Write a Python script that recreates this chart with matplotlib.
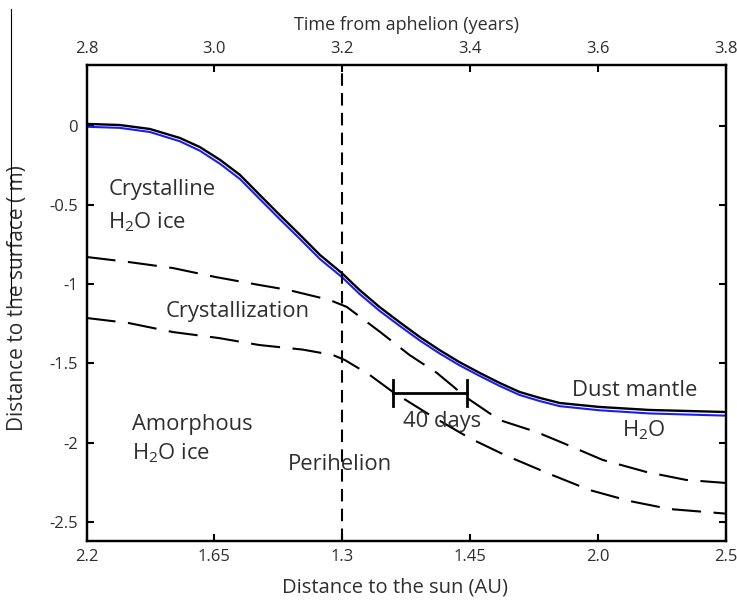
import numpy as np
import matplotlib.pyplot as plt
from matplotlib.lines import Line2D

plt.rcParams['font.family'] = ['Open Sans', 'DejaVu Sans']
plt.rcParams['mathtext.default'] = 'regular'

# time from aphelion (years) and depth (m)
t_surf = [2.8, 2.852, 2.899, 2.946, 2.977, 3.009, 3.040, 3.071, 3.102, 3.134, 3.165, 3.199, 3.227,
          3.258, 3.289, 3.321, 3.352, 3.383, 3.415, 3.446, 3.477, 3.509, 3.540, 3.602, 3.680, 3.8]
d_surf = [0.016, 0.009, -0.016, -0.073, -0.130, -0.212, -0.307, -0.434, -0.560, -0.687, -0.813, -0.927, -1.035,
          -1.142, -1.237, -1.332, -1.415, -1.491, -1.560, -1.623, -1.680, -1.718, -1.750, -1.775, -1.794, -1.807]
d_h2o = [-0.002, -0.009, -0.035, -0.094, -0.153, -0.237, -0.333, -0.460, -0.586, -0.713, -0.839, -0.952, -1.060,
         -1.166, -1.260, -1.354, -1.436, -1.511, -1.579, -1.642, -1.699, -1.738, -1.770, -1.796, -1.816, -1.830]

t_cryst_top = [2.8, 2.866, 2.935, 3.002, 3.070, 3.116, 3.180, 3.207, 3.259, 3.305, 3.348,
               3.395, 3.446, 3.504, 3.545, 3.607, 3.676, 3.738, 3.8]
d_cryst_top = [-0.826, -0.858, -0.896, -0.953, -1.003, -1.035, -1.098, -1.142, -1.300, -1.446, -1.560,
               -1.718, -1.858, -1.934, -2.003, -2.110, -2.187, -2.237, -2.256]

t_cryst_bot = [2.8, 2.866, 2.935, 3.007, 3.070, 3.138, 3.185, 3.204, 3.243, 3.279, 3.337,
               3.399, 3.454, 3.524, 3.587, 3.649, 3.712, 3.8]
d_cryst_bot = [-1.212, -1.244, -1.301, -1.339, -1.383, -1.412, -1.446, -1.478, -1.573, -1.680, -1.826,
               -1.972, -2.079, -2.199, -2.301, -2.370, -2.421, -2.450]

perihelion = 3.2
lag_start, lag_end, lag_depth = 3.279, 3.395, -1.687

time_ticks = [2.8, 3.0, 3.2, 3.4, 3.6, 3.8]
time_labels = ['2.8', '3.0', '3.2', '3.4', '3.6', '3.8']
sun_labels = ['2.2', '1.65', '1.3', '1.45', '2.0', '2.5']
depth_ticks = [0, -0.5, -1, -1.5, -2, -2.5]
depth_labels = ['0', '-0.5', '-1', '-1.5', '-2', '-2.5']

fig = plt.figure(figsize=(7.37, 6.06), dpi=100)
ax = fig.add_axes([0.1174, 0.1073, 0.8677, 0.7855])

ax.plot(t_surf, d_h2o, color='#1a1aff', lw=1.5)
ax.plot(t_surf, d_surf, color='black', lw=1.7)
ax.plot(t_cryst_top, d_cryst_top, color='black', lw=1.5, dashes=(14, 6))
ax.plot(t_cryst_bot, d_cryst_bot, color='black', lw=1.5, dashes=(14, 6))
ax.axvline(perihelion, color='black', lw=1.5, dashes=(6, 3.5))

# 40 day lag marker
ax.plot([lag_start, lag_end], [lag_depth, lag_depth], color='black', lw=2)
ax.plot([lag_start, lag_start], [lag_depth - 0.085, lag_depth + 0.085], color='black', lw=2)
ax.plot([lag_end, lag_end], [lag_depth - 0.085, lag_depth + 0.085], color='black', lw=2)

fs = 15.8
col = '#2e2e2e'
ax.text(2.834, -0.40, 'Crystalline', fontsize=fs, color=col, va='center')
ax.text(2.834, -0.606, 'H$_2$O ice', fontsize=fs, color=col, va='center')
ax.text(2.924, -1.174, 'Crystallization', fontsize=fs, color=col, va='center')
ax.text(2.871, -1.883, 'Amorphous', fontsize=fs, color=col, va='center')
ax.text(2.871, -2.066, 'H$_2$O ice', fontsize=fs, color=col, va='center')
ax.text(3.115, -2.142, 'Perihelion', fontsize=fs, color=col, va='center')
ax.text(3.295, -1.870, '40 days', fontsize=fs, color=col, va='center')
ax.text(3.559, -1.668, 'Dust mantle', fontsize=fs, color=col, va='center')
ax.text(3.637, -1.921, 'H$_2$O', fontsize=fs, color=col, va='center')

ax.set_xlim(2.8, 3.8)
ax.set_ylim(-2.623, 0.389)
ax.set_xticks(time_ticks)
ax.set_xticklabels(sun_labels)
ax.set_yticks(depth_ticks)
ax.set_yticklabels(depth_labels)
ax.tick_params(direction='in', length=5, width=1.5, labelsize=12, colors='black',
               labelcolor=col, right=True, pad=6)
ax.set_xlabel('Distance to the sun (AU)', fontsize=14.5, color=col)
ax.set_ylabel('Distance to the surface ( m)', fontsize=15, color=col)
ax.xaxis.set_label_coords(0.482, -0.076)
ax.yaxis.set_label_coords(-0.091, 0.51)

top = ax.twiny()
top.set_xlim(2.8, 3.8)
top.set_xticks(time_ticks)
top.set_xticklabels(time_labels)
top.tick_params(direction='in', length=5, width=1.5, labelsize=12, labelcolor=col, pad=6)
top.set_xlabel('Time from aphelion (years)', fontsize=13, color=col, labelpad=8)

for a in (ax, top):
    for s in a.spines.values():
        s.set_linewidth(1.6)

# stray rule at the left edge of the scanned figure
fig.add_artist(Line2D([0.015, 0.015], [0.497, 0.985], transform=fig.transFigure,
                      color='black', lw=0.8))

fig.savefig('out.png', dpi=100)
